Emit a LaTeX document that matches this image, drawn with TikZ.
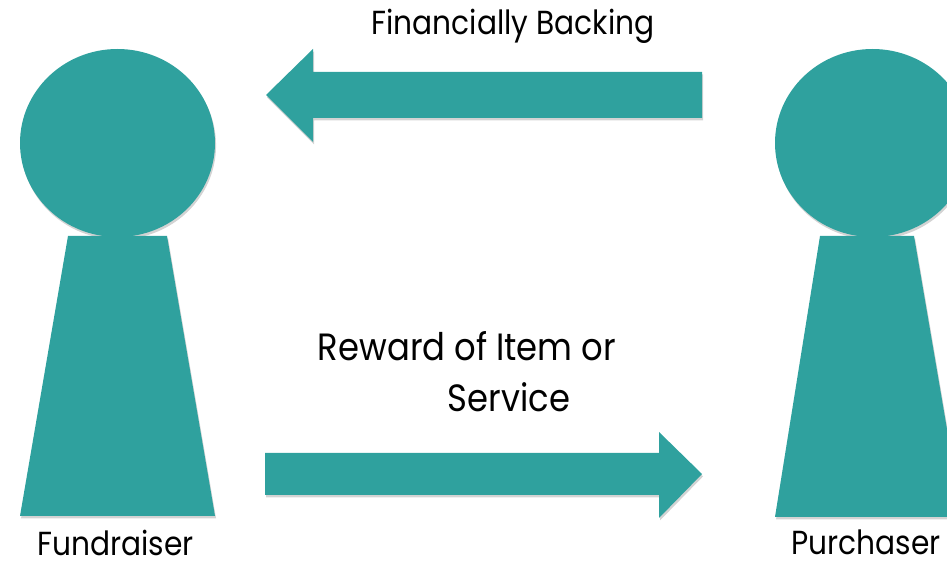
\documentclass[tikz,border=0pt]{standalone}
\usepackage{fontspec}
\setmainfont{Poppins}[FakeStretch=0.89]
\usetikzlibrary{shadows}
\definecolor{figteal}{RGB}{47,161,158}
\tikzset{every picture/.style={line width=0.75pt}}
\tikzset{
  figshape/.style={fill=figteal, drop shadow={opacity=0.35, shadow xshift=0.8pt, shadow yshift=-1.8pt}},
  figtext/.style={inner sep=0pt, anchor=base, font=\fontsize{25}{29}\selectfont},
  bigtext/.style={figtext, font=\fontsize{28.5}{33}\selectfont}
}

\begin{document}
\begin{tikzpicture}[x=0.75pt,y=0.75pt,yscale=-1,xscale=1]
\useasboundingbox (0,0) rectangle (947,566);

%Fundraiser head and body
\fill [figshape] (117.5,143) ellipse (97.5 and 94);
\fill [figshape] (68,236) -- (167,236) -- (215,516) -- (20,516) -- cycle ;
%Purchaser head and body
\fill [figshape] (872.5,143) ellipse (97.5 and 94);
\fill [figshape] (820,236) -- (914,236) -- (962,517) -- (775,517) -- cycle ;

%Arrow to fundraiser
\fill [figshape] (702,72) -- (313,72) -- (313,49) -- (266,95) -- (313,142) -- (313,118) -- (702,118) -- cycle ;
%Arrow to purchaser
\fill [figshape] (265,453) -- (659,453) -- (659,432) -- (702,474) -- (659,518) -- (659,495) -- (265,495) -- cycle ;

% Text Node
\node (backing) [figtext] at (513,35) {Financially Backing};
% Text Node
\node (reward) [bigtext] at (467,361) {Reward of Item or};
% Text Node
\node (service) [bigtext] at (509,412) {Service};
% Text Node
\node (fundraiser) [figtext] at (115.5,556) {Fundraiser};
% Text Node
\node (purchaser) [figtext] at (866,555) {Purchaser};
\end{tikzpicture}
\end{document}
